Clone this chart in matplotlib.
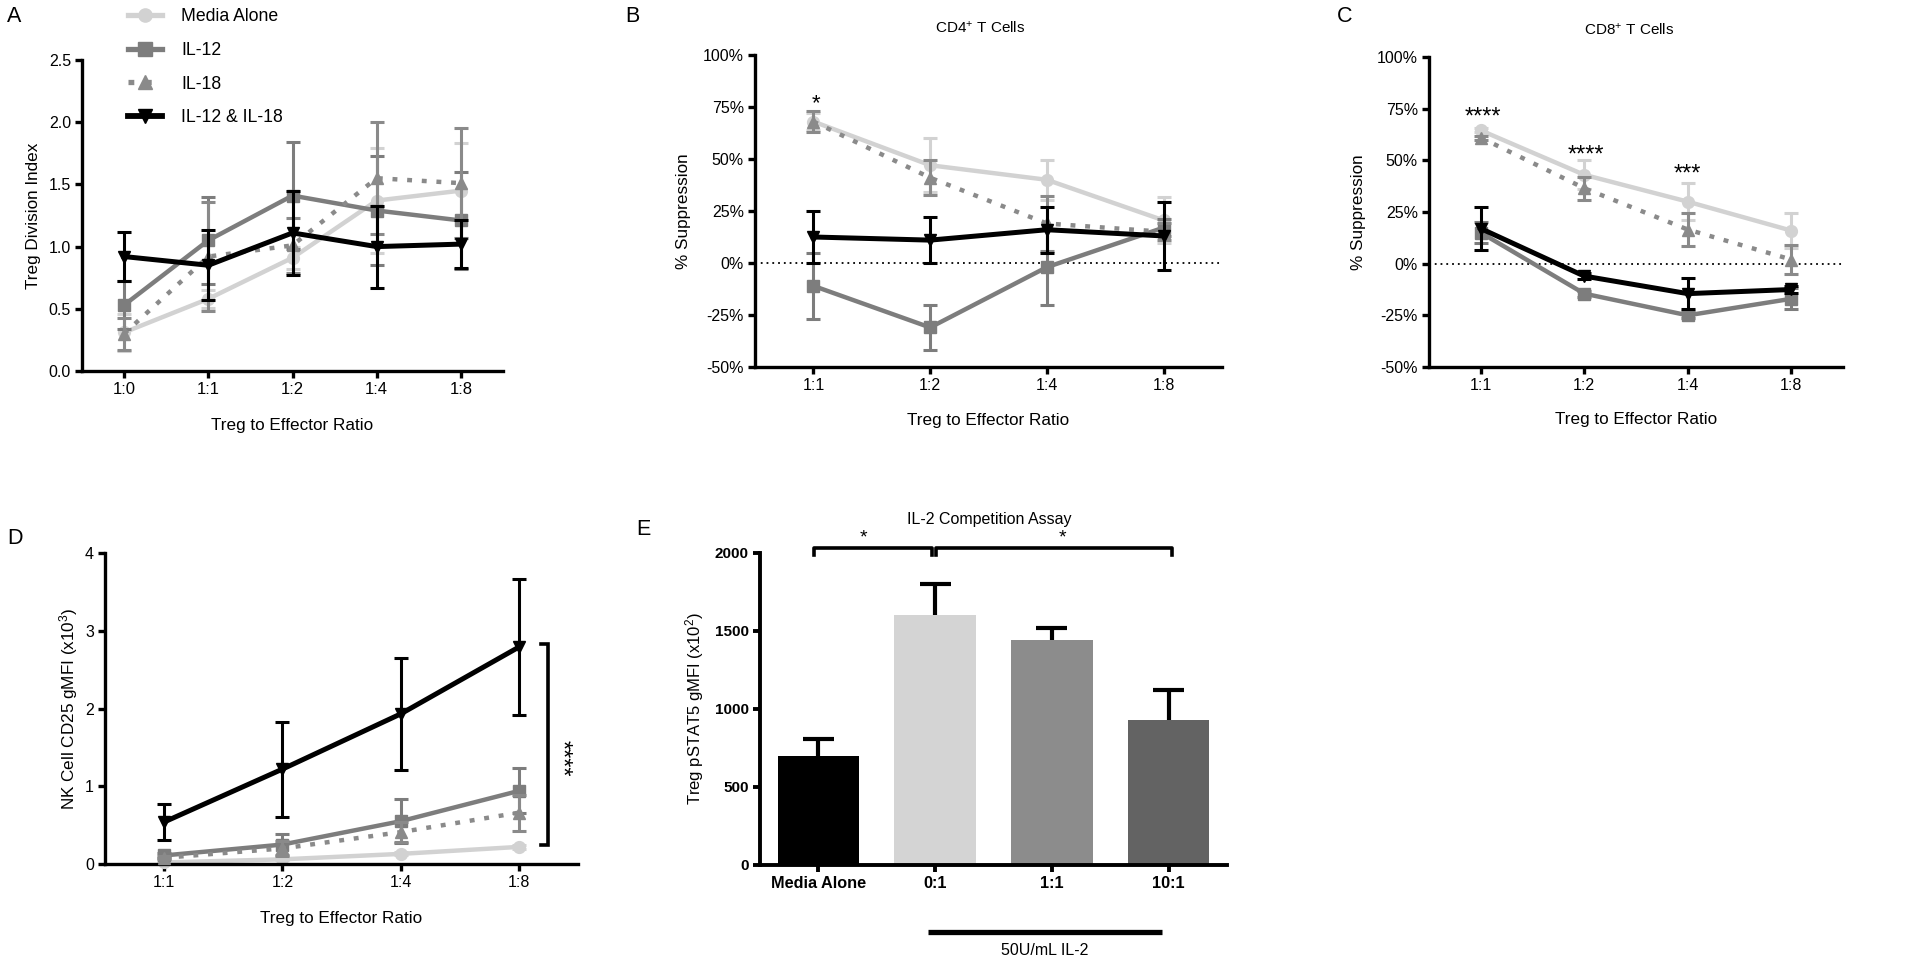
import matplotlib
matplotlib.use('Agg')
import matplotlib.pyplot as plt
from matplotlib.lines import Line2D
import numpy as np

plt.rcParams['font.family'] = ['Liberation Sans', 'DejaVu Sans']
plt.rcParams['mathtext.fontset'] = 'custom'
plt.rcParams['mathtext.rm'] = 'Liberation Sans'
plt.rcParams['mathtext.it'] = 'Liberation Sans:italic'
plt.rcParams['mathtext.bf'] = 'Liberation Sans:bold'

# ---------------- data ----------------
series_names = ['Media Alone', 'IL-12', 'IL-18', 'IL-12 & IL-18']

ratios_A = ['1:0', '1:1', '1:2', '1:4', '1:8']
A_media = [0.31, 0.58, 0.91, 1.37, 1.45]
A_media_err = [0.15, 0.07, 0.09, 0.42, 0.38]
A_il12 = [0.53, 1.05, 1.41, 1.29, 1.21]
A_il12_err = [0.19, 0.35, 0.43, 0.44, 0.39]
A_il18 = [0.30, 0.92, 1.01, 1.55, 1.51]
A_il18_err = [0.13, 0.44, 0.22, 0.45, 0.44]
A_both = [0.92, 0.85, 1.11, 1.00, 1.02]
A_both_err = [0.20, 0.28, 0.34, 0.33, 0.19]

ratios = ['1:1', '1:2', '1:4', '1:8']
B_media = [68, 47, 40, 20.5]
B_media_err = [4, 13, 9.5, 11]
B_il12 = [-11, -31, -2, 17]
B_il12_err = [16, 11, 18, 4]
B_il18 = [68, 41, 19, 15]
B_il18_err = [5, 8.5, 13, 4]
B_both = [12.5, 11, 16, 13]
B_both_err = [12.5, 11, 11, 16.5]

C_media = [64.5, 43, 30, 16]
C_media_err = [1, 7, 9, 8.5]
C_il12 = [15, -14.5, -25, -17]
C_il12_err = [5, 1.5, 1.5, 5]
C_il18 = [61, 36.5, 16.5, 2]
C_il18_err = [1, 5.5, 8, 7]
C_both = [17, -6, -14.5, -12.5]
C_both_err = [10.5, 1.5, 7.5, 1.5]

D_media = [0.02, 0.06, 0.13, 0.22]
D_media_err = [0.01, 0.01, 0.02, 0.03]
D_il12 = [0.11, 0.25, 0.55, 0.94]
D_il12_err = [0.03, 0.13, 0.28, 0.29]
D_il18 = [0.08, 0.20, 0.41, 0.66]
D_il18_err = [0.02, 0.10, 0.13, 0.23]
D_both = [0.54, 1.22, 1.93, 2.79]
D_both_err = [0.23, 0.61, 0.72, 0.88]

E_labels = ['Media Alone', '0:1', '1:1', '10:1']
E_vals = [700, 1605, 1440, 930]
E_err = [110, 195, 80, 190]

pct_ticks = [-50, -25, 0, 25, 50, 75, 100]

# ---------------- styles ----------------
styles = {
    'Media Alone': dict(color='#d2d2d2', ls='-', marker='o', lw=3.2, ms=8.5, z=2),
    'IL-12': dict(color='#7d7d7d', ls='-', marker='s', lw=3.2, ms=8.5, z=3),
    'IL-18': dict(color='#8a8a8a', ls=(0, (1.1, 2.2)), marker='^', lw=3.2, ms=9, z=4),
    'IL-12 & IL-18': dict(color='#000000', ls='-', marker='v', lw=3.6, ms=9, z=5),
}

W, H = 1920, 963
fig = plt.figure(figsize=(W / 100, H / 100), dpi=100)


def px_axes(l, t, r, b):
    return fig.add_axes([l / W, 1 - b / H, (r - l) / W, (b - t) / H])


def style_axes(ax, spine_lw=2.4, labelsize=11.5):
    for s in ['top', 'right']:
        ax.spines[s].set_visible(False)
    for s in ['left', 'bottom']:
        ax.spines[s].set_linewidth(spine_lw)
    ax.tick_params(direction='out', length=5, width=spine_lw, labelsize=labelsize, pad=3)


def draw_series(ax, y, err, name):
    st = styles[name]
    x = np.arange(len(y))
    ax.errorbar(x, y, yerr=err, color=st['color'], ls=st['ls'], lw=st['lw'],
                marker=st['marker'], ms=st['ms'], mec=st['color'], mfc=st['color'],
                elinewidth=2.2, capsize=5, capthick=2.2, zorder=st['z'],
                dash_capstyle='butt', clip_on=False)


def set_labels(ax, xlabel, ylabel, ycoord, xsize=12.3, ysize=12.3, xlab_y=-0.174):
    ax.set_xlabel(xlabel, fontsize=xsize, va='center')
    ax.xaxis.set_label_coords(0.5, xlab_y)
    ax.set_ylabel(ylabel, fontsize=ysize, va='center')
    ax.yaxis.set_label_coords(ycoord, 0.5)


# ---------------- Panel A ----------------
axA = px_axes(82, 60, 503, 371)
style_axes(axA)
for name, y, e in zip(series_names, [A_media, A_il12, A_il18, A_both],
                      [A_media_err, A_il12_err, A_il18_err, A_both_err]):
    draw_series(axA, y, e, name)
axA.set_xlim(-0.5, len(ratios_A) - 0.5)
axA.set_ylim(0, 2.5)
axA.set_yticks([0, 0.5, 1.0, 1.5, 2.0, 2.5])
axA.set_yticklabels(['0.0', '0.5', '1.0', '1.5', '2.0', '2.5'])
axA.set_xticks(np.arange(len(ratios_A)))
axA.set_xticklabels(ratios_A, fontsize=12)
set_labels(axA, 'Treg to Effector Ratio', 'Treg Division Index', -0.116)

handles = []
for name in series_names:
    st = styles[name]
    handles.append(Line2D([], [], color=st['color'], ls=st['ls'], lw=st['lw'] + 0.6,
                          marker=st['marker'], ms=st['ms'] + 1, dash_capstyle='butt'))
axA.legend(handles, series_names, loc='upper left', bbox_to_anchor=(128 / W, 1 - 8 / H),
           bbox_transform=fig.transFigure, frameon=False, fontsize=12.7,
           handlelength=1.9, handletextpad=1.1, labelspacing=0.95, borderpad=0,
           borderaxespad=0, numpoints=1)

# ---------------- Panels B & C ----------------
def pct_panel(ax, data, errs, title, ylab_x):
    style_axes(ax)
    ax.axhline(0, color='black', lw=1.3, ls=(0, (1, 2.2)), zorder=1)
    for name, y, e in zip(series_names, data, errs):
        draw_series(ax, y, e, name)
    ax.set_xlim(-0.5, len(ratios) - 0.5)
    ax.set_ylim(-50, 100)
    ax.set_yticks(pct_ticks)
    ax.set_yticklabels([f'{v}%' for v in pct_ticks])
    ax.set_xticks(np.arange(len(ratios)))
    ax.set_xticklabels(ratios)
    set_labels(ax, 'Treg to Effector Ratio', '% Suppression', ylab_x, xlab_y=-0.17)
    ax.text(1.43, 100 + 27 * 150 / 311, title, ha='center', va='center', fontsize=11,
            clip_on=False)


axB = px_axes(755, 55, 1222, 367)
pct_panel(axB, [B_media, B_il12, B_il18, B_both],
          [B_media_err, B_il12_err, B_il18_err, B_both_err],
          'CD4$^{+}$ T Cells', -0.154)
axB.text(0.02, 76.5, '*', ha='center', va='center', fontsize=16)

axC = px_axes(1429, 57, 1843, 367)
pct_panel(axC, [C_media, C_il12, C_il18, C_both],
          [C_media_err, C_il12_err, C_il18_err, C_both_err],
          'CD8$^{+}$ T Cells', -0.171)
for xi, yi, s in [(0.02, 70.8, '****'), (1.02, 52.2, '****'), (2.0, 43.2, '***')]:
    axC.text(xi, yi, s, ha='center', va='center', fontsize=17)

# ---------------- Panel D ----------------
axD = px_axes(105, 553, 578, 864)
style_axes(axD)
for name, y, e in zip(series_names, [D_media, D_il12, D_il18, D_both],
                      [D_media_err, D_il12_err, D_il18_err, D_both_err]):
    draw_series(axD, y, e, name)
axD.set_xlim(-0.5, len(ratios) - 0.5)
axD.set_ylim(0, 4)
axD.set_yticks([0, 1, 2, 3, 4])
axD.set_xticks(np.arange(len(ratios)))
axD.set_xticklabels(ratios)
set_labels(axD, 'Treg to Effector Ratio', 'NK Cell CD25 gMFI (x10$^{3}$)', -0.078)
axD.plot([3.19, 3.25, 3.25, 3.19], [2.83, 2.83, 0.24, 0.24], color='black', lw=2.6,
         clip_on=False, solid_joinstyle='miter')
axD.text(3.36, 1.36, '****', rotation=270, ha='center', va='center', fontsize=17)

# ---------------- Panel E ----------------
axE = px_axes(760, 553, 1227, 865)
style_axes(axE, spine_lw=2.8, labelsize=11)
xe = np.arange(len(E_labels))
E_colors = ['#000000', '#d4d4d4', '#8c8c8c', '#636363']
axE.bar(xe, E_vals, width=0.7, color=E_colors, zorder=2)
tops = np.array(E_vals) + np.array(E_err)
axE.vlines(xe, E_vals, tops, color='black', lw=3, zorder=1)
axE.hlines(tops, xe - 0.132, xe + 0.132, color='black', lw=3, zorder=1)
axE.set_xlim(-0.5, len(E_labels) - 0.5)
axE.set_ylim(0, 2000)
axE.set_yticks([0, 500, 1000, 1500, 2000])
axE.set_xticks(xe)
axE.set_xticklabels(E_labels, fontsize=11.7, fontweight='bold')
for lab in axE.get_yticklabels():
    lab.set_fontweight('bold')
axE.set_ylabel('Treg pSTAT5 gMFI (x10$^{2}$)', fontsize=12, va='center')
axE.yaxis.set_label_coords(-0.141, 0.5)
# significance brackets
axE.plot([-0.04, -0.04, 0.97, 0.97], [1989, 2032, 2032, 1989], color='black', lw=2.6,
         clip_on=False)
axE.plot([1.01, 1.01, 3.03, 3.03], [1989, 2032, 2032, 1989], color='black', lw=2.6,
         clip_on=False)
axE.text(0.385, 2095, '*', ha='center', va='center', fontsize=14)
axE.text(2.09, 2095, '*', ha='center', va='center', fontsize=14)
axE.text(1.46, 2212, 'IL-2 Competition Assay', ha='center', va='center', fontsize=11.5)
axE.plot([0.94, 2.94], [-429, -429], color='black', lw=3.8, clip_on=False,
         solid_capstyle='butt')
axE.text(1.94, -545, '50U/mL IL-2', ha='center', va='center', fontsize=11.5)

# ---------------- panel letters ----------------
for letter, (lx, ly) in {'A': (14, 17), 'B': (632, 16), 'C': (1345, 17),
                         'D': (15, 538), 'E': (643, 529)}.items():
    fig.text(lx / W, 1 - ly / H, letter, ha='center', va='center', fontsize=15.5)

fig.savefig('out.png', dpi=100)
